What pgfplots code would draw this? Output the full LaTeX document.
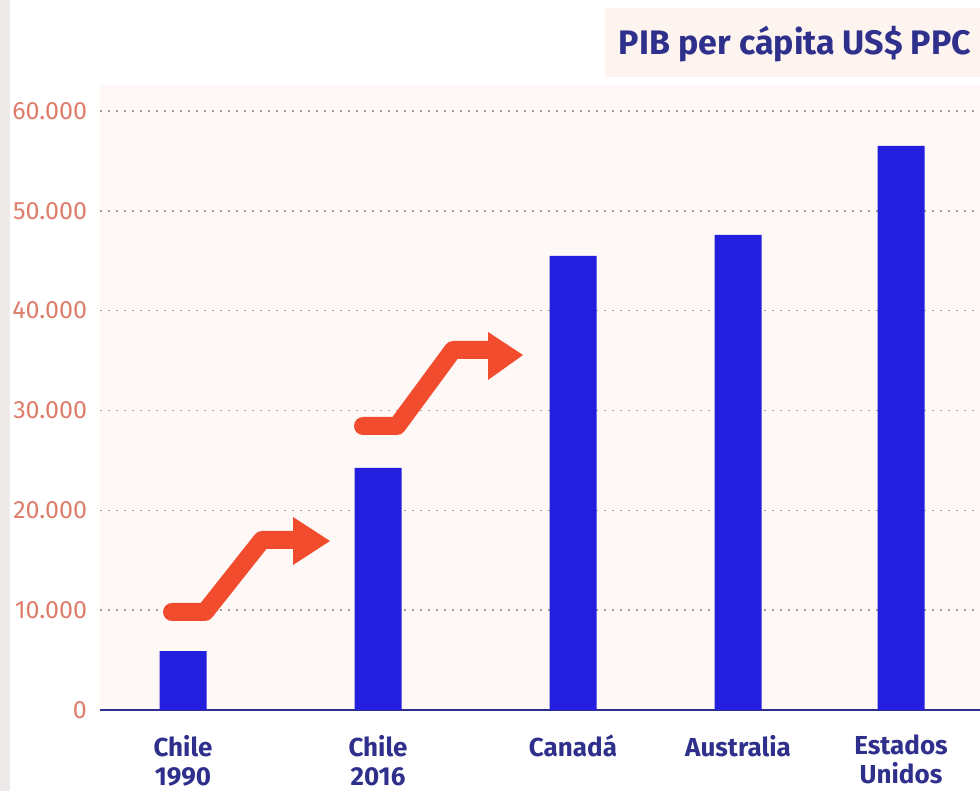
\documentclass[border=0pt]{standalone}
\usepackage{fontspec}
\setmainfont{Fira Sans}
\usepackage{pgfplots}
\pgfplotsset{compat=1.18}
\definecolor{barblue}{RGB}{36,31,222}
\definecolor{labblue}{RGB}{46,48,140}
\definecolor{ticksal}{RGB}{222,125,108}
\definecolor{arrowred}{RGB}{240,76,45}
\definecolor{gridgray}{RGB}{165,155,155}
\definecolor{plotpink}{RGB}{254,248,246}
\definecolor{titlepink}{RGB}{253,243,239}
\definecolor{stripgray}{RGB}{238,234,233}
\begin{document}
\begin{tikzpicture}
% 1px = 0.5pt, image 980x791
\useasboundingbox (0,0) rectangle (490pt,395.5pt);
\fill[white] (0,0) rectangle (490pt,395.5pt);
\fill[stripgray] (0,0) rectangle (5pt,395.5pt);
\fill[plotpink] (50pt,40.5pt) rectangle (490pt,353pt);
\fill[titlepink] (302.5pt,357pt) rectangle (490pt,391.5pt);
\node[anchor=base, text=labblue, font=\fontsize{17}{20}\selectfont\bfseries, inner sep=0pt]
  at (397.5pt,368pt) {PIB per cápita US\$ PPC};
\begin{axis}[
  at={(50pt,40.5pt)}, anchor=south west,
  scale only axis, width=440pt, height=299.5pt,
  xmin=1, xmax=9.8, ymin=0, ymax=60000,
  axis x line*=bottom, axis y line*=left,
  x axis line style={-, draw=labblue, line width=1pt},
  y axis line style={draw=none},
  major tick length=0pt,
  xtick={1.83,3.78,5.73,7.38,9.01},
  xticklabels={{Chile\\1990},{Chile\\2016},{Canadá},{Australia},{Estados\\Unidos}},
  xticklabel style={align=center, text=labblue, font=\fontsize{13}{14.5}\selectfont\bfseries, yshift=-9pt},
  ytick={0,10000,20000,30000,40000,50000,60000},
  scaled y ticks=false,
  /pgf/number format/.cd, 1000 sep={.}, assume math mode=true, /pgfplots/.cd,
  yticklabel style={text=ticksal, font=\fontsize{12.5}{14}\selectfont, xshift=-3pt},
  ymajorgrids,
  grid style={gridgray, line width=0.8pt, dash pattern=on 0.8pt off 3.2pt},
  clip=false,
]
\addplot[ybar, bar width=0.47, fill=barblue, draw=none] coordinates {
  (1.83,5900) (3.78,24250) (5.73,45500) (7.38,47600) (9.01,56500)
};
% arrows
\draw[arrowred, line width=9pt, line cap=round, line join=round]
  (axis cs:1.72,9816) -- (axis cs:2.05,9816) -- (axis cs:2.62,17028) -- (axis cs:2.98,17028);
\fill[arrowred] (axis cs:2.93,19332) -- (axis cs:3.30,16928) -- (axis cs:2.93,14524) -- cycle;
\draw[arrowred, line width=9pt, line cap=round, line join=round]
  (axis cs:3.63,28447) -- (axis cs:3.97,28447) -- (axis cs:4.53,36060) -- (axis cs:4.92,36060);
\fill[arrowred] (axis cs:4.88,37863) -- (axis cs:5.23,35559) -- (axis cs:4.88,33055) -- cycle;
\end{axis}
\end{tikzpicture}
\end{document}
